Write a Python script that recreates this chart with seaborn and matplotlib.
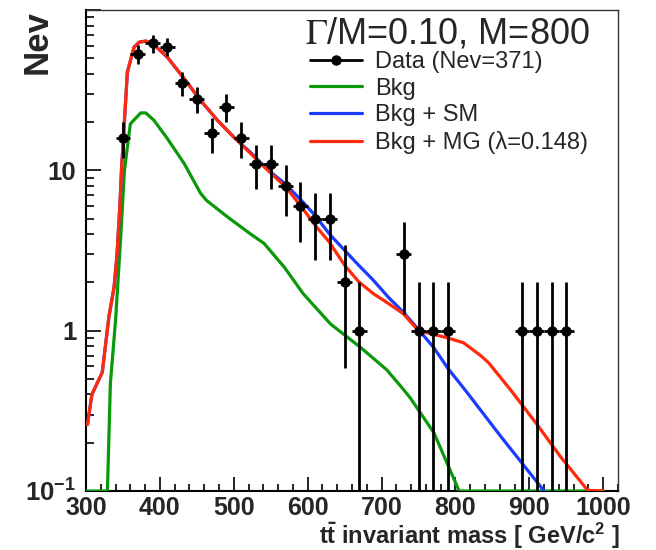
import numpy as np
import pandas as pd
import matplotlib
matplotlib.use("Agg")
import matplotlib.pyplot as plt
import seaborn as sns
from matplotlib.lines import Line2D
from matplotlib.ticker import FixedLocator, MultipleLocator, NullFormatter, FixedFormatter

# Observed events per 20 GeV/c^2 bin (bin centres)
data_mass = [350, 370, 390, 410, 430, 450, 470, 490, 510, 530, 550, 570, 590,
             610, 630, 650, 670, 730, 750, 770, 790, 890, 910, 930, 950]
data_nev = [16, 53, 62, 59, 35, 28, 17, 25, 16, 11, 11, 8, 6,
            5, 5, 2, 1, 3, 1, 1, 1, 1, 1, 1, 1]
bin_half_width = 10

# Background expectation
bkg_mass = [300, 329, 333, 340, 347, 352, 360, 374, 381, 392, 410, 433, 455,
            463, 492, 523, 541, 568, 594, 631, 671, 707, 726, 739, 771, 805, 1000]
bkg_nev = [0, 0, 0.47, 1.16, 3.85, 10, 19.5, 22.8, 22.8, 20.5, 15.8, 11.0, 7.2,
           6.5, 5.1, 4.0, 3.5, 2.5, 1.7, 1.1, 0.79, 0.57, 0.45, 0.38, 0.23, 0.1, 0]

# Background + Standard Model signal
sm_mass = [302, 308, 322, 331, 338, 342, 346, 348, 356, 365, 372, 381, 390, 410,
           433, 455, 478, 500, 523, 546, 570, 590, 610, 629, 650, 669, 689, 709,
           729, 749, 771, 790, 816, 861, 920]
sm_nev = [0.26, 0.40, 0.55, 1.22, 1.87, 3.0, 6.2, 10, 41, 58.6, 63, 64, 62, 50.8,
          37.3, 27.3, 20.5, 16.1, 12.9, 10.1, 8.2, 6.6, 5.24, 4.03, 3.17, 2.56, 2.06, 1.62,
          1.31, 1.03, 0.78, 0.58, 0.41, 0.22, 0.1]

# Background + massive gluon (lambda = 0.148)
mg_mass = [302, 308, 322, 331, 338, 342, 346, 348, 356, 365, 372, 381, 390, 410,
           433, 455, 478, 500, 523, 546, 570, 590, 610, 629, 650, 669, 689, 709,
           729, 750, 770, 790, 811, 834, 845, 875, 911, 942, 979, 1000]
mg_nev = [0.26, 0.40, 0.55, 1.22, 1.87, 3.0, 6.2, 10, 41, 58.6, 63, 64, 62, 50.8,
          37.3, 27.3, 20.5, 16.1, 12.7, 10, 7.9, 6.05, 4.55, 3.58, 2.56, 2.02, 1.7, 1.48,
          1.28, 1.0, 0.95, 0.90, 0.84, 0.70, 0.63, 0.425, 0.258, 0.164, 0.101, 0]

y_floor = 0.1
green = "#0a990a"
blue = "#1a3cff"
red = "#ff2a0a"

sns.set_theme(style="white")
plt.rcParams["font.family"] = ["Liberation Sans", "DejaVu Sans"]
plt.rcParams["mathtext.fontset"] = "custom"
plt.rcParams["mathtext.rm"] = "Liberation Sans"
plt.rcParams["mathtext.bf"] = "Liberation Sans:bold"
plt.rcParams["mathtext.it"] = "Liberation Sans:italic"

fig = plt.figure(figsize=(6.56, 5.5), dpi=100)
ax = fig.add_axes([86 / 656, 1 - 491 / 550, (618 - 86) / 656, (491 - 10) / 550])
ax.set_yscale("log")

curves = [
    (bkg_mass, bkg_nev, green),
    (sm_mass, sm_nev, blue),
    (mg_mass, mg_nev, red),
]
for mass, nev, col in curves:
    frame = pd.DataFrame({"mass": mass, "nev": np.clip(nev, y_floor, None)})
    sns.lineplot(data=frame, x="mass", y="nev", color=col, lw=2.3,
                 estimator=None, sort=False, ax=ax, zorder=3)

nev = np.asarray(data_nev, dtype=float)
ax.errorbar(data_mass, nev, xerr=bin_half_width, yerr=np.sqrt(nev),
            fmt="o", color="black", ms=6.5, elinewidth=2.0, capsize=0, zorder=5)

ax.set_xlim(300, 1020)
ax.set_ylim(0.1, 100)
ax.set_xlabel("")
ax.set_ylabel("")

ax.xaxis.set_major_locator(MultipleLocator(100))
ax.xaxis.set_minor_locator(MultipleLocator(20))
ax.yaxis.set_major_locator(FixedLocator([0.1, 1, 10, 100]))
ax.yaxis.set_major_formatter(FixedFormatter([r"$\mathbf{10^{-1}}$", "1", "10", ""]))
minor_y = [m * d for d in (0.1, 1, 10) for m in range(2, 10)]
ax.yaxis.set_minor_locator(FixedLocator(minor_y))
ax.yaxis.set_minor_formatter(NullFormatter())

ax.tick_params(which="both", direction="in", bottom=True, left=True,
               top=False, right=False, color="black", width=1.2)
ax.tick_params(axis="x", which="major", length=10, pad=3.5, labelsize=18)
ax.tick_params(axis="x", which="minor", length=5)
ax.tick_params(axis="y", which="major", length=11, pad=7, labelsize=18.5)
ax.tick_params(axis="y", which="minor", length=5.5)
for lab in ax.get_xticklabels() + ax.get_yticklabels():
    lab.set_fontweight("bold")

for side in ("left", "bottom"):
    ax.spines[side].set_color("black")
    ax.spines[side].set_linewidth(1.5)
for side in ("top", "right"):
    ax.spines[side].set_color("#333333")
    ax.spines[side].set_linewidth(1.0)

fig.text(37 / 656, 1 - 42 / 550, "Nev", rotation=90, fontsize=25,
         fontweight="bold", ha="center", va="center")
fig.text(620 / 656, 1 - 544 / 550,
         r"$\mathbf{t\bar{t}}$ invariant mass [ GeV/c$^{\mathbf{2}}$ ]",
         fontsize=17, fontweight="bold", ha="right", va="baseline")

fig.text(305 / 656, 1 - 43 / 550, r"$\Gamma$/M=0.10, M=800", fontsize=26,
         ha="left", va="baseline", math_fontfamily="stix")

handles = [
    Line2D([], [], color="black", marker="o", ms=6.5, lw=2.0),
    Line2D([], [], color=green, lw=2.3),
    Line2D([], [], color=blue, lw=2.3),
    Line2D([], [], color=red, lw=2.3),
]
labels = ["Data (Nev=371)", "Bkg", "Bkg + SM", "Bkg + MG (\u03bb=0.148)"]
fig.legend(handles, labels, loc="upper left",
           bbox_to_anchor=(310 / 656, 1 - 51 / 550), frameon=False,
           fontsize=17, handlelength=2.2, handletextpad=0.55,
           labelspacing=0.2, borderpad=0, borderaxespad=0)

fig.savefig("out.png", dpi=100)
